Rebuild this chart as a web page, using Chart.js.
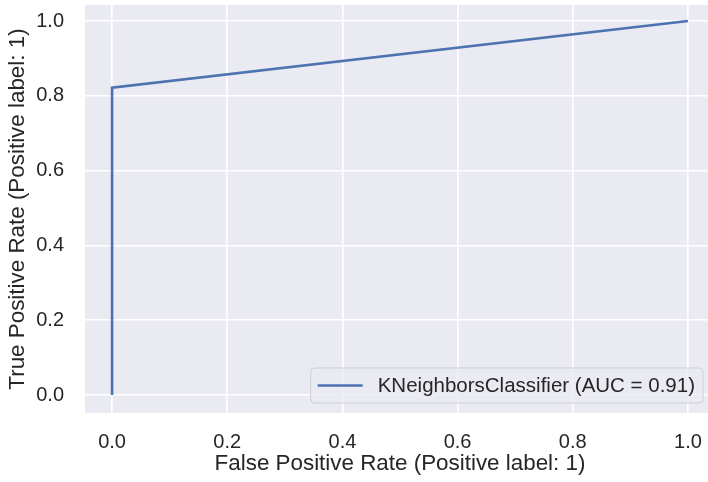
<!DOCTYPE html>
<html lang="en">
<head>
  <meta charset="UTF-8">
  <title>ROC curve</title>
  <script src="https://cdn.jsdelivr.net/npm/chart.js"></script>
  <style>
    html, body {
      margin: 0;
      padding: 0;
      background: #fff;
      overflow: hidden;
    }
    .wrap {
      width: 716px;
      height: 482px;
    }
  </style>
</head>
<body>
<div class="wrap"><canvas id="chart"></canvas></div>

<script>
const fpr = [0, 0, 1];
const tpr = [0, 0.822, 1];
const xTicks = [0, 0.2, 0.4, 0.6, 0.8, 1.0];
const yTicks = [0, 0.2, 0.4, 0.6, 0.8, 1.0];
const seriesLabel = "KNeighborsClassifier (AUC = 0.91)";

const FONT = "'Liberation Sans', Arial, sans-serif";

// seaborn darkgrid background
const bgPlugin = {
  id: "bg",
  beforeDraw(chart) {
    const { ctx, chartArea: a } = chart;
    ctx.save();
    ctx.fillStyle = "#EAEAF2";
    ctx.fillRect(a.left, a.top, a.right - a.left, a.bottom - a.top);
    ctx.restore();
  }
};

// legend box in lower right of the axes
const legendPlugin = {
  id: "boxLegend",
  afterDraw(chart) {
    const { ctx, chartArea: a } = chart;
    const ds = chart.data.datasets[0];
    ctx.save();
    ctx.font = "20.5px " + FONT;
    const tw = ctx.measureText(ds.label).width;
    const h = 35;
    const w = 7 + 45 + 15 + tw + 8;
    const right = a.right - 12, bottom = a.bottom - 10;
    const left = right - w, top = bottom - h;
    ctx.beginPath();
    ctx.roundRect(left, top, w, h, 4);
    ctx.fillStyle = "rgba(234,234,242,0.8)";
    ctx.fill();
    ctx.lineWidth = 1;
    ctx.strokeStyle = "#cfcfd6";
    ctx.stroke();
    const cy = top + h / 2;
    ctx.beginPath();
    ctx.moveTo(left + 7, cy);
    ctx.lineTo(left + 52, cy);
    ctx.strokeStyle = ds.borderColor;
    ctx.lineWidth = 2.6;
    ctx.stroke();
    ctx.fillStyle = "#262626";
    ctx.textBaseline = "middle";
    ctx.fillText(ds.label, left + 67, cy + 1);
    ctx.restore();
  }
};

new Chart(document.getElementById("chart"), {
  type: "scatter",
  data: {
    datasets: [{
      label: seriesLabel,
      data: fpr.map((x, i) => ({ x: x, y: tpr[i] })),
      showLine: true,
      borderColor: "#4C72B0",
      borderWidth: 2.6,
      pointRadius: 0,
      fill: false
    }]
  },
  options: {
    responsive: true,
    maintainAspectRatio: false,
    animation: false,
    layout: { padding: { top: 5, right: 1, left: 0, bottom: 0 } },
    plugins: {
      legend: { display: false },
      tooltip: { enabled: false }
    },
    scales: {
      x: {
        type: "linear",
        min: -0.047,
        max: 1.047,
        afterBuildTicks: s => { s.ticks = xTicks.map(v => ({ value: v })); },
        afterFit: s => { s.height = 69; s.paddingLeft = 0; s.paddingRight = 0; },
        border: { display: false },
        grid: { color: "#ffffff", lineWidth: 1.6, drawTicks: false, tickLength: 0 },
        ticks: {
          padding: 17,
          color: "#262626",
          font: { family: FONT, size: 20 },
          callback: v => v.toFixed(1)
        },
        title: {
          display: true,
          text: "False Positive Rate (Positive label: 1)",
          color: "#262626",
          font: { family: FONT, size: 22.4 },
          padding: { top: 0, bottom: 5 }
        }
      },
      y: {
        type: "linear",
        min: -0.048,
        max: 1.043,
        afterBuildTicks: s => { s.ticks = yTicks.map(v => ({ value: v })); },
        afterFit: s => { s.width = 85; s.paddingTop = 0; s.paddingBottom = 0; },
        border: { display: false },
        grid: { color: "#ffffff", lineWidth: 1.6, drawTicks: false, tickLength: 0 },
        ticks: {
          padding: 21,
          color: "#262626",
          font: { family: FONT, size: 20 },
          callback: v => v.toFixed(1)
        },
        title: {
          display: true,
          text: "True Positive Rate (Positive label: 1)",
          color: "#262626",
          font: { family: FONT, size: 22.4 },
          padding: { top: 4, bottom: 0 }
        }
      }
    }
  },
  plugins: [bgPlugin, legendPlugin]
});
</script>
</body>
</html>
